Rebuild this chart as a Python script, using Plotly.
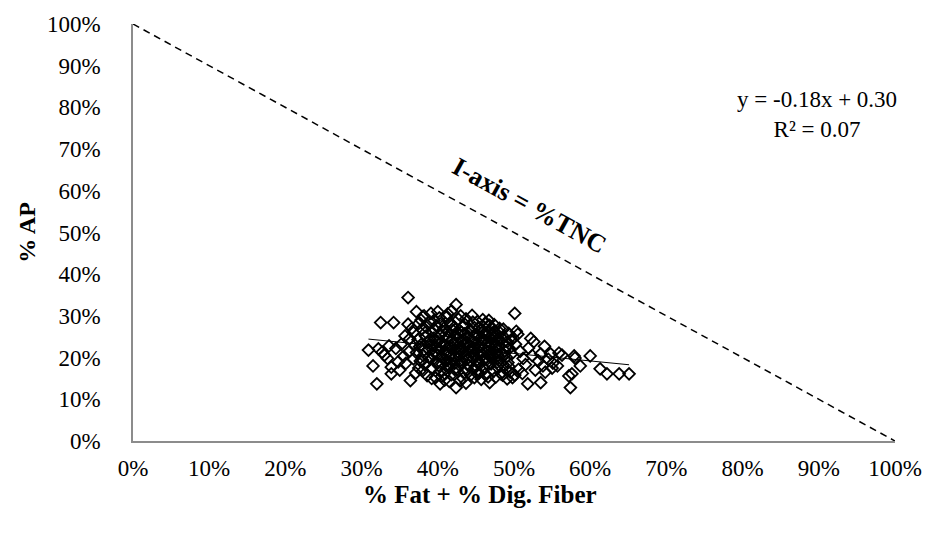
import plotly.graph_objects as go

# % Fat + % Dig. Fiber (x) and % AP (y) for each sample, as fractions
fat_fiber = [
    # periphery
    0.361, 0.325, 0.342, 0.309, 0.315, 0.320, 0.339, 0.364, 0.361, 0.372,
    0.400, 0.413, 0.424, 0.391, 0.459, 0.481, 0.501, 0.505, 0.522, 0.535,
    0.548, 0.559, 0.579, 0.550, 0.572, 0.574, 0.535, 0.518, 0.563, 0.580,
    0.600, 0.587, 0.576, 0.613, 0.622, 0.638, 0.651, 0.557, 0.498, 0.468,
    0.452, 0.403, 0.424, 0.448,
    # left side
    0.322, 0.330, 0.334, 0.345, 0.352, 0.348, 0.339, 0.355, 0.358, 0.362,
    0.336, 0.327, 0.350, 0.357, 0.363, 0.368, 0.366, 0.370, 0.368, 0.371,
    0.375, 0.378, 0.380,
    # right middle
    0.502, 0.508, 0.512, 0.515, 0.519, 0.524, 0.528, 0.532, 0.538, 0.541,
    0.545, 0.551, 0.540, 0.526, 0.506, 0.511, 0.496, 0.493, 0.503,
    # core
    0.372, 0.374, 0.376, 0.377, 0.379, 0.381, 0.383, 0.384, 0.386, 0.387,
    0.388, 0.389, 0.391, 0.392, 0.393, 0.394, 0.395, 0.396, 0.397, 0.398,
    0.399, 0.400, 0.401, 0.402, 0.403, 0.404, 0.405, 0.406, 0.407, 0.408,
    0.409, 0.410, 0.411, 0.412, 0.413, 0.414, 0.415, 0.416, 0.417, 0.418,
    0.419, 0.420, 0.421, 0.422, 0.423, 0.424, 0.425, 0.426, 0.427, 0.428,
    0.429, 0.430, 0.431, 0.432, 0.433, 0.434, 0.435, 0.436, 0.437, 0.438,
    0.439, 0.440, 0.441, 0.442, 0.443, 0.444, 0.445, 0.446, 0.447, 0.448,
    0.449, 0.450, 0.451, 0.452, 0.453, 0.454, 0.455, 0.456, 0.457, 0.458,
    0.459, 0.460, 0.461, 0.462, 0.463, 0.464, 0.465, 0.466, 0.467, 0.468,
    0.469, 0.470, 0.471, 0.472, 0.473, 0.474, 0.475, 0.476, 0.477, 0.478,
    0.479, 0.480, 0.481, 0.482, 0.483, 0.484, 0.485, 0.486, 0.487, 0.488,
    0.489, 0.490, 0.491, 0.492, 0.494, 0.495, 0.497, 0.499,
    # core, second layer
    0.378, 0.382, 0.385, 0.388, 0.390, 0.393, 0.396, 0.399, 0.401, 0.404,
    0.406, 0.409, 0.411, 0.414, 0.416, 0.418, 0.421, 0.423, 0.426, 0.428,
    0.431, 0.433, 0.436, 0.438, 0.441, 0.443, 0.446, 0.448, 0.451, 0.453,
    0.456, 0.458, 0.461, 0.463, 0.466, 0.468, 0.471, 0.473, 0.476, 0.479,
    # core, third layer
    0.380, 0.384, 0.389, 0.392, 0.397, 0.400, 0.403, 0.407, 0.410, 0.413,
    0.417, 0.420, 0.422, 0.425, 0.427, 0.430, 0.432, 0.435, 0.439, 0.442,
    0.444, 0.447, 0.450, 0.454, 0.457, 0.460, 0.464, 0.467, 0.470, 0.474,
    0.478, 0.482, 0.487, 0.490, 0.493,
    # upper edge
    0.382, 0.395, 0.412, 0.418, 0.430, 0.437, 0.445, 0.452, 0.467, 0.474,
    0.486, 0.375,
    # lower edge
    0.380, 0.392, 0.405, 0.415, 0.433, 0.437, 0.457, 0.462, 0.476, 0.485,
    0.491, 0.501, 0.409,
]

ap = [
    # periphery
    0.344, 0.284, 0.284, 0.218, 0.180, 0.137, 0.161, 0.145, 0.280, 0.310,
    0.310, 0.305, 0.327, 0.306, 0.291, 0.270, 0.306, 0.256, 0.246, 0.209,
    0.209, 0.211, 0.204, 0.175, 0.156, 0.128, 0.140, 0.137, 0.206, 0.199,
    0.204, 0.180, 0.161, 0.173, 0.161, 0.161, 0.161, 0.180, 0.152, 0.140,
    0.161, 0.137, 0.128, 0.152,
    # left side
    0.221, 0.206, 0.198, 0.222, 0.232, 0.190, 0.177, 0.203, 0.186, 0.214,
    0.228, 0.213, 0.170, 0.252, 0.245, 0.260, 0.270, 0.230, 0.197, 0.163,
    0.175, 0.290, 0.298,
    # right middle
    0.232, 0.215, 0.198, 0.183, 0.223, 0.205, 0.170, 0.192, 0.180, 0.165,
    0.196, 0.187, 0.227, 0.238, 0.172, 0.162, 0.241, 0.258, 0.263,
    # core
    0.212, 0.243, 0.226, 0.192, 0.268, 0.205, 0.183, 0.251, 0.157, 0.236,
    0.219, 0.285, 0.198, 0.262, 0.174, 0.229, 0.247, 0.211, 0.152, 0.276,
    0.188, 0.238, 0.221, 0.295, 0.167, 0.255, 0.203, 0.184, 0.232, 0.271,
    0.146, 0.215, 0.246, 0.193, 0.263, 0.176, 0.227, 0.283, 0.208, 0.159,
    0.241, 0.198, 0.272, 0.186, 0.219, 0.253, 0.171, 0.235, 0.292, 0.204,
    0.145, 0.226, 0.261, 0.189, 0.244, 0.213, 0.165, 0.279, 0.231, 0.196,
    0.252, 0.181, 0.218, 0.267, 0.158, 0.239, 0.202, 0.285, 0.224, 0.174,
    0.256, 0.192, 0.233, 0.211, 0.271, 0.163, 0.245, 0.186, 0.228, 0.259,
    0.207, 0.176, 0.241, 0.282, 0.217, 0.195, 0.262, 0.154, 0.229, 0.203,
    0.248, 0.185, 0.221, 0.268, 0.167, 0.236, 0.199, 0.253, 0.212, 0.178,
    0.242, 0.226, 0.193, 0.259, 0.161, 0.208, 0.234, 0.183, 0.249, 0.216,
    0.172, 0.201, 0.238, 0.188, 0.222, 0.165, 0.209, 0.247,
    # core, second layer
    0.231, 0.219, 0.273, 0.201, 0.244, 0.208, 0.267, 0.225, 0.181, 0.236,
    0.264, 0.228, 0.207, 0.249, 0.189, 0.276, 0.233, 0.201, 0.258, 0.182,
    0.217, 0.276, 0.205, 0.237, 0.249, 0.191, 0.216, 0.272, 0.256, 0.187,
    0.211, 0.236, 0.196, 0.254, 0.215, 0.277, 0.198, 0.251, 0.227, 0.204,
    # core, third layer
    0.194, 0.261, 0.227, 0.175, 0.239, 0.206, 0.281, 0.197, 0.255, 0.184,
    0.222, 0.265, 0.172, 0.243, 0.213, 0.194, 0.238, 0.257, 0.171, 0.228,
    0.263, 0.206, 0.180, 0.224, 0.267, 0.243, 0.187, 0.237, 0.212, 0.263,
    0.189, 0.241, 0.205, 0.228, 0.179,
    # upper edge
    0.300, 0.289, 0.298, 0.312, 0.300, 0.293, 0.301, 0.286, 0.289, 0.279,
    0.268, 0.282,
    # lower edge
    0.168, 0.150, 0.155, 0.143, 0.150, 0.139, 0.148, 0.160, 0.153, 0.158,
    0.149, 0.158, 0.162,
]

# Linear fit reported on the chart: y = -0.18x + 0.30, R² = 0.07
fit_slope = -0.18
fit_intercept = 0.30

# Boundary where %AP + (%Fat + %Dig. Fiber) = 100 %
boundary_x = [0.0, 1.0]
boundary_y = [1.0, 0.0]

axis_ticks = [0, 0.1, 0.2, 0.3, 0.4, 0.5, 0.6, 0.7, 0.8, 0.9, 1.0]

serif = "Liberation Serif, Times New Roman, serif"

x_lo, x_hi = min(fat_fiber), max(fat_fiber)
fit_x = [x_lo, x_hi]
fit_y = [fit_slope * v + fit_intercept for v in fit_x]

fig = go.Figure()

fig.add_trace(go.Scatter(
    x=boundary_x, y=boundary_y, mode="lines",
    line=dict(color="black", width=1.5, dash="7px,5px"),
    hoverinfo="skip", showlegend=False, cliponaxis=False,
))

fig.add_trace(go.Scatter(
    x=fat_fiber, y=ap, mode="markers",
    marker=dict(symbol="diamond-open", size=9, color="black",
                line=dict(color="black", width=1.8)),
    showlegend=False,
))

fig.add_trace(go.Scatter(
    x=fit_x, y=fit_y, mode="lines",
    line=dict(color="black", width=1),
    showlegend=False,
))

fig.add_annotation(
    text="I-axis = %TNC", x=0.520, y=0.564, xref="x", yref="y",
    showarrow=False, textangle=28.8,
    font=dict(family=serif, size=26, color="black", weight="bold"),
)
fig.add_annotation(
    text="y = -0.18x + 0.30<br>R² = 0.07", x=0.897, y=0.782,
    xref="x", yref="y", showarrow=False, align="center",
    font=dict(family=serif, size=23, color="black"),
)
# x-axis title, placed slightly left of centre
fig.add_annotation(
    text="% Fat + % Dig. Fiber", x=0.455, y=-0.128, xref="paper", yref="paper",
    xanchor="center", yanchor="middle", showarrow=False,
    font=dict(family=serif, size=25, color="black", weight="bold"),
)

fig.update_xaxes(
    range=[0, 1], tickvals=axis_ticks, tickformat=".0%",
    showgrid=False, zeroline=False, showline=True,
    linecolor="#8c8c8c", linewidth=1.5, ticks="", ticklabelstandoff=6,
    tickfont=dict(family=serif, size=23, color="black"),
)
fig.update_yaxes(
    range=[0, 1], tickvals=axis_ticks, tickformat=".0%",
    showgrid=False, zeroline=False, showline=True,
    linecolor="#8c8c8c", linewidth=1.5, ticks="", ticklabelstandoff=26,
    tickfont=dict(family=serif, size=23, color="black"),
    title=dict(text="% AP", standoff=5,
               font=dict(family=serif, size=24, color="black", weight="bold")),
)

fig.update_layout(
    width=934, height=533,
    margin=dict(l=133, r=34, t=19, b=92),
    paper_bgcolor="white", plot_bgcolor="white",
)

fig.write_html("out.html")
